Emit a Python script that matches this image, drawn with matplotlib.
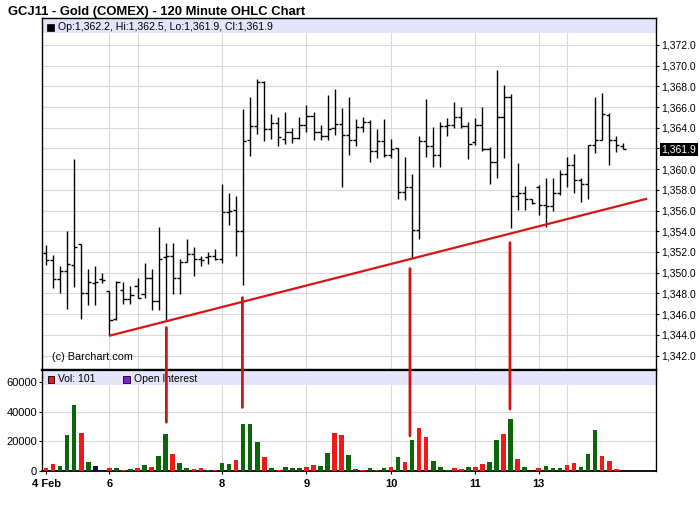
import matplotlib
matplotlib.use('Agg')
import matplotlib.pyplot as plt
from matplotlib.collections import LineCollection
from matplotlib.patches import Rectangle, ConnectionPatch

plt.rcParams['font.family'] = ['Liberation Sans', 'DejaVu Sans']

# ---------------- data ----------------
opens = [1351.9, 1351.2, 1349.4, 1350.2, 1350.7, 1352.8, 1348.0, 1349.0, 1349.4, 1348.2,
         1345.5, 1348.3, 1347.5, 1348.7, 1347.9, 1349.5, 1347.3, 1351.5, 1351.6, 1349.5,
         1351.0, 1351.8, 1351.3, 1351.5, 1351.6, 1351.3, 1355.9, 1356.1, 1354.0, 1362.8,
         1364.2, 1368.4, 1363.9, 1364.5, 1362.9, 1363.6, 1363.0, 1364.3, 1365.1, 1363.6,
         1363.2, 1364.0, 1364.4, 1363.3, 1362.8, 1364.1, 1364.6, 1361.8, 1362.7, 1361.4,
         1362.0, 1357.8, 1358.3, 1354.1, 1362.7, 1362.2, 1361.4, 1364.2, 1364.3, 1365.0,
         1364.2, 1362.6, 1364.3, 1361.9, 1360.7, 1365.0, 1367.0, 1357.4, 1357.7, 1357.1,
         1358.3, 1356.5, 1356.4, 1357.7, 1359.5, 1360.4, 1359.0, 1358.6, 1362.3, 1362.8,
         1365.2, 1362.8, 1362.2]
highs = [1352.7, 1351.7, 1350.6, 1354.0, 1361.0, 1352.8, 1350.4, 1350.6, 1350.0, 1348.2,
         1349.2, 1349.1, 1348.7, 1349.5, 1350.9, 1350.4, 1354.4, 1352.9, 1352.9, 1351.3,
         1353.3, 1352.5, 1351.6, 1352.0, 1352.3, 1358.6, 1357.7, 1357.4, 1365.8, 1367.0,
         1368.7, 1368.5, 1365.3, 1365.0, 1365.5, 1364.0, 1365.0, 1366.2, 1365.5, 1364.3,
         1367.2, 1367.7, 1365.9, 1367.0, 1364.8, 1365.0, 1364.7, 1363.9, 1364.8, 1362.9,
         1362.0, 1361.2, 1359.5, 1363.2, 1366.8, 1364.1, 1364.6, 1364.9, 1366.5, 1366.0,
         1364.6, 1364.9, 1366.0, 1362.1, 1369.6, 1368.1, 1367.3, 1360.6, 1358.4, 1357.1,
         1358.5, 1359.1, 1359.1, 1359.9, 1361.2, 1361.5, 1359.1, 1362.3, 1367.0, 1367.35,
         1365.4, 1363.2, 1362.5]
lows = [1350.7, 1348.5, 1348.0, 1346.5, 1348.6, 1345.5, 1346.9, 1346.9, 1349.0, 1344.0,
        1345.4, 1347.0, 1347.0, 1347.6, 1347.6, 1346.4, 1346.4, 1345.4, 1347.9, 1347.9,
        1351.0, 1349.7, 1350.6, 1350.8, 1351.2, 1350.9, 1354.6, 1351.6, 1348.8, 1361.3,
        1363.4, 1362.7, 1362.9, 1362.2, 1362.4, 1362.5, 1362.9, 1363.6, 1362.8, 1362.8,
        1362.8, 1363.3, 1358.3, 1361.4, 1362.2, 1363.6, 1360.7, 1361.1, 1361.2, 1361.1,
        1357.1, 1357.0, 1351.4, 1353.3, 1361.2, 1360.2, 1360.2, 1363.2, 1364.0, 1364.0,
        1361.0, 1362.3, 1361.8, 1358.6, 1359.1, 1361.1, 1354.3, 1356.1, 1356.1, 1356.6,
        1355.6, 1354.4, 1356.0, 1357.5, 1358.3, 1357.7, 1356.8, 1357.1, 1361.6, 1362.8,
        1360.4, 1361.7, 1361.9]
closes = [1351.2, 1349.4, 1350.2, 1350.8, 1352.5, 1348.0, 1349.1, 1349.1, 1349.3, 1345.4,
          1349.1, 1347.5, 1347.8, 1347.6, 1349.5, 1347.3, 1351.3, 1351.6, 1349.5, 1351.0,
          1351.8, 1351.3, 1351.2, 1351.6, 1351.3, 1355.9, 1356.0, 1354.0, 1362.7, 1364.2,
          1368.4, 1363.9, 1364.5, 1363.1, 1363.6, 1363.0, 1364.3, 1365.1, 1363.6, 1363.2,
          1363.9, 1364.4, 1363.3, 1362.8, 1364.1, 1364.6, 1361.8, 1362.7, 1361.4, 1361.9,
          1357.8, 1358.3, 1354.1, 1362.7, 1362.2, 1361.4, 1364.2, 1364.3, 1365.0, 1364.2,
          1362.4, 1364.3, 1361.9, 1360.7, 1365.0, 1367.0, 1357.4, 1357.7, 1357.1, 1356.7,
          1356.5, 1356.4, 1357.7, 1359.5, 1360.4, 1359.0, 1358.6, 1362.3, 1362.8, 1365.3,
          1362.8, 1362.3, 1361.9]
volumes = [2300, 4850, 3500, 24300, 44400, 25700, 6200, 3500, 0, 2300,
           2100, 700, 1400, 2300, 4200, 3000, 10400, 25000, 11800, 5500,
           2100, 1200, 2100, 700, 700, 5500, 4850, 7600, 31900, 31900,
           19700, 9700, 2100, 700, 2800, 2100, 2100, 2800, 4200, 3500,
           12500, 25700, 24300, 11100, 1400, 700, 2100, 700, 2100, 2800,
           9250, 6200, 20800, 29100, 22900, 6900, 2800, 700, 2100, 1400,
           2800, 2800, 4850, 6200, 20800, 25000, 35400, 8300, 3000, 0,
           2100, 3500, 2100, 2100, 4200, 5500, 3000, 11800, 27700, 10400,
           6900, 1400, 101]
vol_colors = "rrgggrgngrgrgrgrggrggrrgrggrgggrgrgggrrggrrggrgrgrgrgrrgggrrgrrggrgrgrrgggrrgggrrr"
day_labels = ['4 Feb', '6', '8', '9', '10', '11', '13']
day_pos = [0, 9, 25, 37, 49, 61, 70]
grid_pos = [9, 13, 25, 37, 49, 61, 70, 74]
price_ticks = list(range(1342, 1373, 2))
vol_ticks = [0, 20000, 40000, 60000]
trend_x = [8.95, 85.4]
trend_p = [1343.9, 1357.15]
marker_x = [17.1, 27.9, 51.7, 65.9]
marker_top = [1344.7, 1347.6, 1350.4, 1352.9]
marker_bottom = [33000, 43000, 23700, 41900]
last_price = 1361.9

# ---------------- layout ----------------
W, H = 700, 512
fig = plt.figure(figsize=(W / 100, H / 100), dpi=100)
fig.patch.set_facecolor('white')


def rect(x0, y0, x1, y1):
    return [x0 / W, 1 - y1 / H, (x1 - x0) / W, (y1 - y0) / H]


PX0, PX1, PY0, PY1 = 42, 656, 18, 370
VY0, VY1 = 370, 471
ax = fig.add_axes(rect(PX0, PY0, PX1, PY1))
axv = fig.add_axes(rect(PX0, VY0, PX1, VY1))

xl = ((PX0 - 46) / 7.04, (PX1 - 46) / 7.04)
for a in (ax, axv):
    a.set_xlim(*xl)
ax.set_ylim(1340.6, 1374.6)
axv.set_ylim(0, 68300)


def fx(px):
    return (px - PX0) / (PX1 - PX0)


def fyp(py):
    return (PY1 - py) / (PY1 - PY0)


def fyv(py):
    return (VY1 - py) / (VY1 - VY0)


GRID = '#d9d9d9'
# grids
for p in price_ticks + [1374]:
    ax.axhline(p, color=GRID, lw=0.8, zorder=0)
for v in vol_ticks[1:]:
    axv.axhline(v, color=GRID, lw=0.8, zorder=0)
for g in grid_pos:
    ax.axvline(g, color=GRID, lw=0.8, zorder=0)
    axv.axvline(g, color=GRID, lw=0.8, zorder=0)

# legend strips
ax.add_patch(Rectangle((0, fyp(33)), 1, 1 - fyp(33), transform=ax.transAxes,
                       fc='#e4e4fa', ec='none', zorder=2))
axv.add_patch(Rectangle((0, fyv(385)), 1, 1 - fyv(385), transform=axv.transAxes,
                        fc='#e4e4fa', ec='none', zorder=2))

# OHLC bars
segs = []
tw = 0.45
for k in range(len(opens)):
    segs.append([(k, lows[k]), (k, highs[k])])
    segs.append([(k - tw, opens[k]), (k, opens[k])])
    segs.append([(k, closes[k]), (k + tw, closes[k])])
ax.add_collection(LineCollection(segs, colors='black', linewidths=1.0, zorder=3))

# trend line
ax.plot(trend_x, trend_p, color='#d81414', lw=1.6, zorder=4, solid_capstyle='butt')

# volume bars
cmap = {'r': '#f01818', 'g': '#0b660b', 'n': '#0a0a5a'}
axv.bar(range(len(volumes)), volumes, width=0.66,
        color=[cmap[c] for c in vol_colors], zorder=3)

# ticks
ax.yaxis.tick_right()
ax.set_yticks(price_ticks)
ax.set_yticklabels(['' if p == 1362 else f'{p:,.1f}' for p in price_ticks])
ax.tick_params(axis='y', direction='out', length=2.5, width=0.8, labelsize=7.5, pad=1)
ax.tick_params(axis='x', bottom=False, labelbottom=False)

axv.set_yticks(vol_ticks)
axv.set_yticklabels([str(v) for v in vol_ticks])
axv.tick_params(axis='y', direction='out', length=2.5, width=0.8, labelsize=8, pad=1)
axv.set_xticks(day_pos)
axv.set_xticklabels(day_labels, fontweight='bold')
axv.tick_params(axis='x', direction='out', length=2.5, width=0.8, labelsize=8, pad=3)

for s in ax.spines.values():
    s.set_color('black')
    s.set_linewidth(1.0)
ax.spines['bottom'].set_linewidth(1.6)
for s in axv.spines.values():
    s.set_color('black')
    s.set_linewidth(1.0)
axv.spines['top'].set_linewidth(1.6)
axv.spines['bottom'].set_linewidth(1.3)

# last price box
ax.annotate(f'{last_price:,.1f}', xy=(1, last_price), xycoords=('axes fraction', 'data'),
            xytext=(4, 0), textcoords='offset points', ha='left', va='center',
            color='white', fontsize=7.5, annotation_clip=False,
            bbox=dict(boxstyle='square,pad=0.15', fc='black', ec='none'))

# legend texts
ax.add_patch(Rectangle((fx(47), fyp(30.5)), fx(54) - fx(47), fyp(24) - fyp(30.5),
                       transform=ax.transAxes, fc='black', ec='black', lw=0.5, zorder=5))
ax.text(fx(58.5), fyp(27.5), 'Op:1,362.2, Hi:1,362.5, Lo:1,361.9, Cl:1,361.9',
        transform=ax.transAxes, va='center', ha='left', fontsize=7.6, zorder=5)
axv.add_patch(Rectangle((fx(47.5), fyv(382.5)), fx(54) - fx(47.5), fyv(376) - fyv(382.5),
                        transform=axv.transAxes, fc='#f01818', ec='black', lw=0.6, zorder=5))
axv.text(fx(58), fyv(379.3), 'Vol: 101', transform=axv.transAxes, va='center',
         ha='left', fontsize=7.5, zorder=5)
axv.add_patch(Rectangle((fx(123), fyv(382.5)), fx(129.5) - fx(123), fyv(376) - fyv(382.5),
                        transform=axv.transAxes, fc='#8a1ad8', ec='black', lw=0.6, zorder=5))
axv.text(fx(134), fyv(379.3), 'Open Interest', transform=axv.transAxes, va='center',
         ha='left', fontsize=7.5, zorder=5)

ax.text(fx(52), fyp(357), '(c) Barchart.com', transform=ax.transAxes, va='center',
        ha='left', fontsize=7.8, zorder=5)

# title
fig.text(8 / W, 1 - 14.5 / H, 'GCJ11 - Gold (COMEX) - 120 Minute OHLC Chart',
         fontsize=9.4, fontweight='bold', ha='left', va='baseline')

# red marker lines linking price to volume
for mx, mt, mb in zip(marker_x, marker_top, marker_bottom):
    con = ConnectionPatch(xyA=(mx, mt), coordsA='data', axesA=ax,
                          xyB=(mx, mb), coordsB='data', axesB=axv,
                          color='#cc1616', lw=2.0, zorder=10)
    fig.add_artist(con)

fig.savefig('out.png', dpi=100)
